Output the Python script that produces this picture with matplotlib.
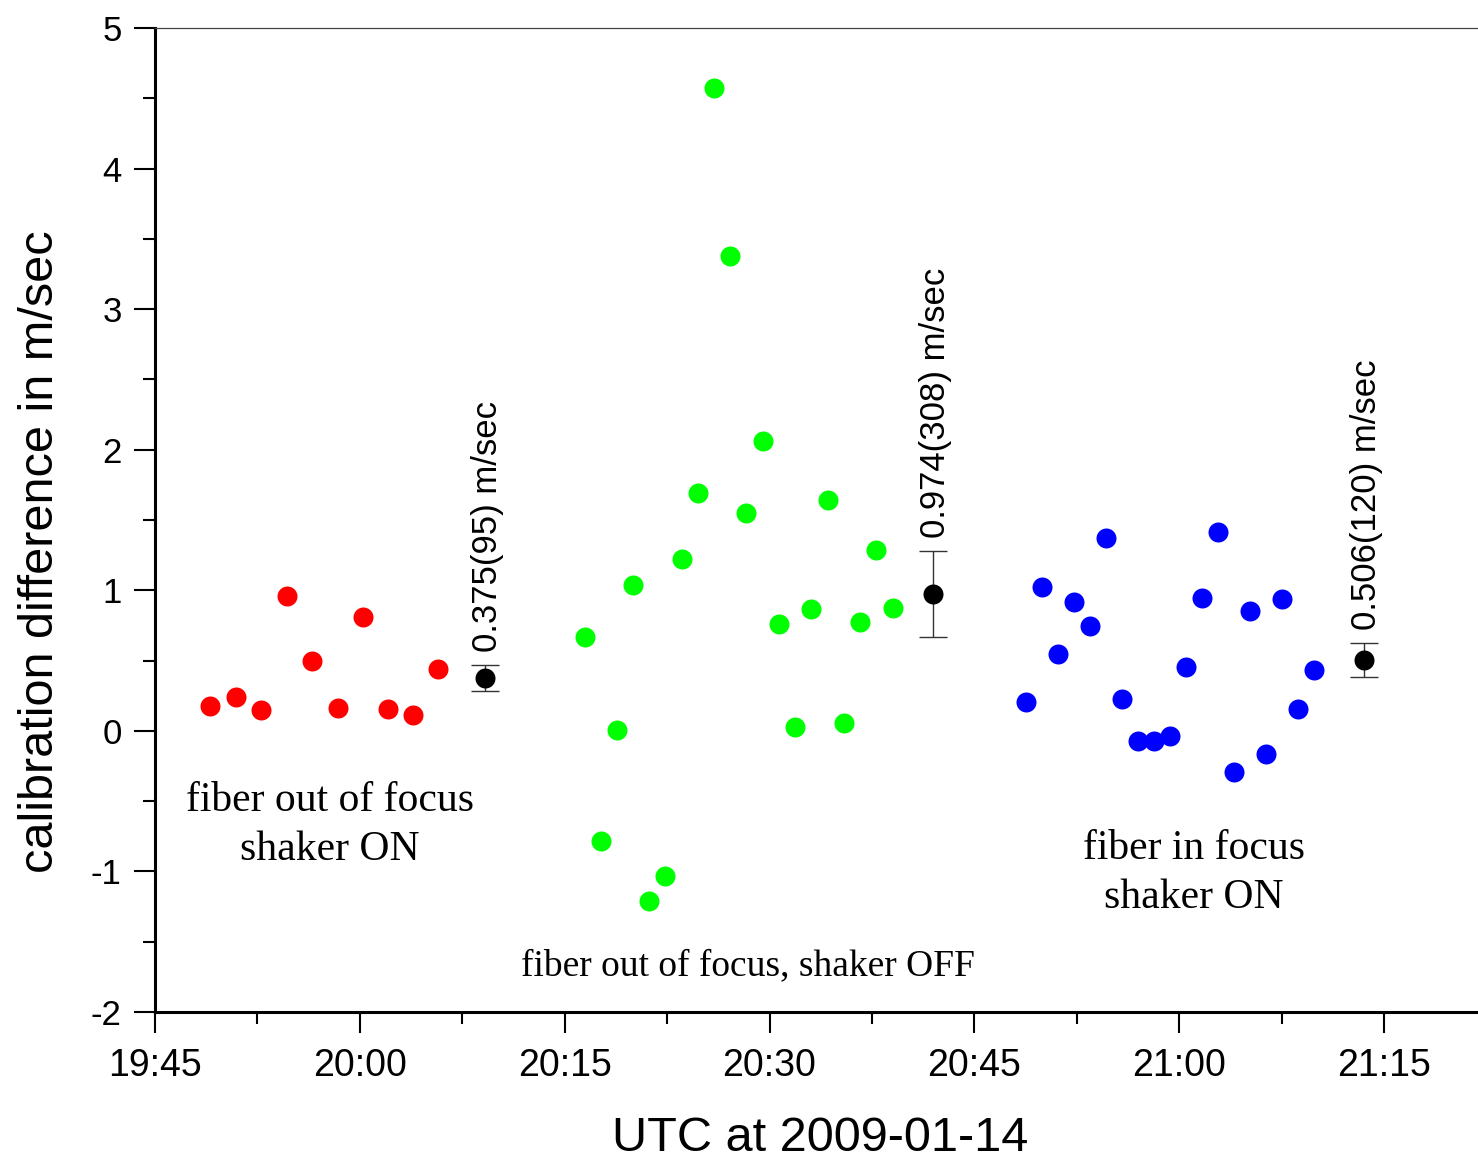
import numpy as np
import matplotlib
matplotlib.use('Agg')
import matplotlib.pyplot as plt
from matplotlib.ticker import MultipleLocator, FuncFormatter

# ----------------------------------------------------------------------
# minutes after 19:45 UTC, calibration difference in m/sec

red_t = [4.03, 5.93, 7.76, 9.67, 11.50, 13.40, 15.23, 17.07, 18.90, 20.73]
red_v = [0.178, 0.242, 0.149, 0.960, 0.498, 0.164, 0.811, 0.156, 0.114, 0.441]

green_t = [31.49, 32.67, 33.84, 35.01, 36.18, 37.35, 38.60, 39.77, 40.94, 42.11,
           43.29, 44.53, 45.70, 46.87, 48.05, 49.29, 50.46, 51.64, 52.81, 54.05]
green_v = [0.669, -0.782, 0.007, 1.038, -1.209, -1.031, 1.223, 1.693, 4.573, 3.378,
           1.550, 2.063, 0.761, 0.028, 0.868, 1.643, 0.057, 0.775, 1.287, 0.875]

blue_t = [63.79, 64.96, 66.14, 67.31, 68.48, 69.65, 70.82, 71.99, 73.17, 74.34,
          75.51, 76.68, 77.85, 79.03, 80.20, 81.37, 82.54, 83.71, 84.89]
blue_v = [0.206, 1.024, 0.548, 0.917, 0.747, 1.373, 0.228, -0.071, -0.071, -0.036,
          0.455, 0.946, 1.415, -0.292, 0.853, -0.164, 0.939, 0.156, 0.434]

# group means with their errors
mean_t = [24.17, 56.98, 88.55]
mean_v = [0.375, 0.974, 0.506]
mean_err = [0.095, 0.308, 0.120]
mean_labels = ['0.375(95) m/sec', '0.974(308) m/sec', '0.506(120) m/sec']

groups = ['fiber out of focus\nshaker ON',
          'fiber out of focus, shaker OFF',
          'fiber in focus\nshaker ON']
group_pos = [(12.8, -0.67), (43.4, -1.67), (76.1, -1.01)]
group_size = [30, 27, 30]

# ----------------------------------------------------------------------

sans = ['Liberation Sans', 'DejaVu Sans']
serif = ['Liberation Serif', 'DejaVu Serif']
matplotlib.rc('font', family=sans)

fig = plt.figure(figsize=(14.78, 11.6), dpi=100)
ax = fig.add_axes([0.10487, 0.12759, 0.89513, 0.84828])

ms = 14.4
ax.plot(red_t, red_v, 'o', color='#ff0000', ms=ms, mec='none')
ax.plot(green_t, green_v, 'o', color='#00ff00', ms=ms, mec='none')
ax.plot(blue_t, blue_v, 'o', color='#0000ff', ms=ms, mec='none')

ax.errorbar(mean_t, mean_v, yerr=mean_err, fmt='o', color='black', ms=ms, mec='none',
            ecolor='#333333', elinewidth=1.0, capsize=10, capthick=1.0, zorder=3)

for t, v, e, lab in zip(mean_t, mean_v, mean_err, mean_labels):
    ax.annotate(lab, xy=(t, v + e), xytext=(1.5, 9), textcoords='offset points',
                rotation=90, ha='center', va='bottom', fontsize=25, family=sans)

for lab, (x, y), fs in zip(groups, group_pos, group_size):
    ax.text(x, y, lab, ha='center', va='center', fontsize=fs, family=serif,
            linespacing=1.36)

ax.set_xlim(0, 96.88)
ax.set_ylim(-2, 5)

ax.xaxis.set_major_locator(MultipleLocator(15))
ax.xaxis.set_minor_locator(MultipleLocator(7.5))
ax.yaxis.set_major_locator(MultipleLocator(1))
ax.yaxis.set_minor_locator(MultipleLocator(0.5))

def hhmm(m, pos):
    tot = int(round(19 * 60 + 45 + m))
    return '%d:%02d' % (tot // 60, tot % 60)

ax.xaxis.set_major_formatter(FuncFormatter(hhmm))
ax.yaxis.set_major_formatter(FuncFormatter(lambda v, p: '%d' % v))

ax.tick_params(which='major', direction='out', length=15, width=1.5)
ax.tick_params(which='minor', direction='out', length=8.5, width=1.5)
ax.tick_params(axis='x', labelsize=27, pad=11)
ax.tick_params(axis='y', labelsize=25, pad=9)
ax.tick_params(top=False, right=False, which='both')

for s in ['left', 'bottom']:
    ax.spines[s].set_linewidth(2.2)
ax.spines['top'].set_linewidth(0.9)
ax.spines['top'].set_color('#444444')
ax.spines['right'].set_visible(False)

ax.set_xlabel('UTC at 2009-01-14', fontsize=35, labelpad=23)
ax.set_ylabel('calibration difference in m/sec', fontsize=35, labelpad=20)
ax.xaxis.label.set_x(0.5026)
ax.yaxis.label.set_y(0.4675)

plt.savefig('out.png', dpi=100)
